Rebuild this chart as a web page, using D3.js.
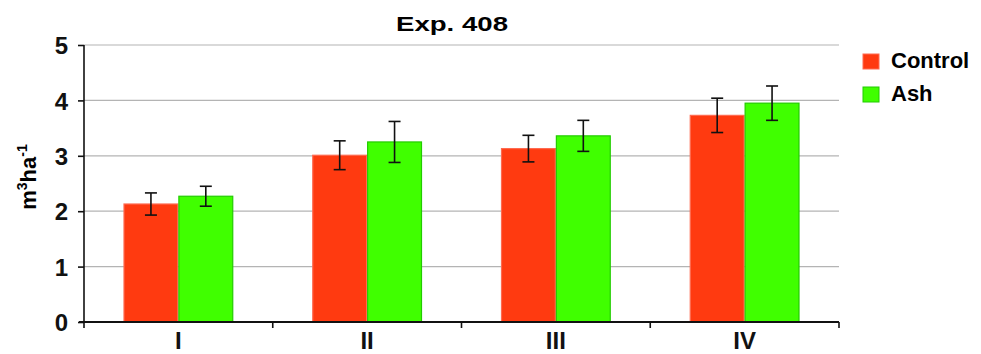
<!DOCTYPE html>
<html>
<head>
<meta charset="utf-8">
<script src="https://cdn.jsdelivr.net/npm/d3@7"></script>
<style>
  body { margin: 0; background: #fff; }
  svg { display: block; font-family: "Liberation Sans", Arial, sans-serif; }
</style>
</head>
<body>
<svg id="chart" width="981" height="354"></svg>
<script>
// Stand volume by treatment, experiment 408
const categories = ["I", "II", "III", "IV"];
const seriesNames = ["Control", "Ash"];
const controlValues = [2.13, 3.01, 3.13, 3.73];
const controlErrors = [0.20, 0.26, 0.24, 0.31];
const ashValues = [2.27, 3.25, 3.36, 3.95];
const ashErrors = [0.18, 0.37, 0.28, 0.31];
const yTicks = [0, 1, 2, 3, 4, 5];

const colors = { Control: "#ff3a10", Ash: "#40ff00" };
const strokes = { Control: "#ff6a50", Ash: "#22cc00" };

const svg = d3.select("#chart");
const margin = { left: 84, right: 142, top: 45, bottom: 32 };
const width = 981 - margin.left - margin.right;
const height = 354 - margin.top - margin.bottom;

const g = svg.append("g").attr("transform", `translate(${margin.left},${margin.top})`);

const x0 = d3.scaleBand().domain(categories).range([0, width]).padding(0);
const x1 = d3.scaleBand().domain(seriesNames).range([0, x0.bandwidth()]).paddingOuter(0.72).paddingInner(0);
const y = d3.scaleLinear().domain([0, 5]).range([height, 0]);

// Horizontal gridlines
g.selectAll(".grid").data(yTicks.filter(d => d > 0)).join("line")
  .attr("x1", 0).attr("x2", width)
  .attr("y1", d => y(d)).attr("y2", d => y(d))
  .attr("stroke", "#b4b4b4").attr("stroke-width", 1.2);

const rows = categories.map((c, i) => ({
  cat: c,
  items: [
    { name: "Control", value: controlValues[i], err: controlErrors[i] },
    { name: "Ash", value: ashValues[i], err: ashErrors[i] }
  ]
}));

const groups = g.selectAll(".grp").data(rows).join("g")
  .attr("transform", d => `translate(${x0(d.cat)},0)`);

groups.selectAll("rect").data(d => d.items).join("rect")
  .attr("x", d => x1(d.name) + 0.5)
  .attr("y", d => y(d.value))
  .attr("width", x1.bandwidth() - 1)
  .attr("height", d => y(0) - y(d.value))
  .attr("fill", d => colors[d.name])
  .attr("stroke", d => strokes[d.name])
  .attr("stroke-width", 1.2);

// Error bars
const eb = groups.selectAll(".eb").data(d => d.items).join("g")
  .attr("transform", d => `translate(${x1(d.name) + x1.bandwidth() / 2},0)`)
  .attr("stroke", "#111").attr("stroke-width", 1.6);
eb.append("line").attr("x1", 0).attr("x2", 0)
  .attr("y1", d => y(d.value + d.err)).attr("y2", d => y(d.value - d.err));
eb.append("line").attr("x1", -6).attr("x2", 6)
  .attr("y1", d => y(d.value + d.err)).attr("y2", d => y(d.value + d.err));
eb.append("line").attr("x1", -6).attr("x2", 6)
  .attr("y1", d => y(d.value - d.err)).attr("y2", d => y(d.value - d.err));

// Y axis
const yAxis = g.append("g")
  .call(d3.axisLeft(y).tickValues(yTicks).tickSize(6).tickPadding(10).tickFormat(d3.format("d")));
yAxis.select(".domain").attr("stroke", "#111").attr("stroke-width", 1.6).attr("d", `M0,${height}V0`);
yAxis.selectAll(".tick line").attr("stroke", "#111").attr("stroke-width", 1.6);
yAxis.selectAll(".tick text").attr("font-size", 24).attr("font-weight", "bold").attr("fill", "#111")
  .attr("dy", "0.36em");

// X axis: ticks at category boundaries
const xAxis = g.append("g").attr("transform", `translate(0,${height})`);
xAxis.append("line").attr("x1", -5).attr("x2", width).attr("y1", 0).attr("y2", 0)
  .attr("stroke", "#111").attr("stroke-width", 1.8);
const bounds = categories.map(c => x0(c)).concat([width]);
xAxis.selectAll(".xt").data(bounds).join("line")
  .attr("x1", d => d).attr("x2", d => d).attr("y1", 0).attr("y2", 6)
  .attr("stroke", "#111").attr("stroke-width", 1.6);
xAxis.selectAll(".xl").data(categories).join("text")
  .attr("x", d => x0(d) + x0.bandwidth() / 2).attr("y", 27)
  .attr("text-anchor", "middle").attr("font-size", 24).attr("font-weight", "bold").attr("fill", "#111")
  .text(d => d);

// Title
svg.append("text").attr("x", 452).attr("y", 31).attr("text-anchor", "middle")
  .attr("font-size", 21).attr("font-weight", "bold").attr("fill", "#000")
  .attr("textLength", 112).attr("lengthAdjust", "spacingAndGlyphs").text("Exp. 408");

// Y axis title m3ha-1
const yt = svg.append("text").attr("transform", "translate(36,177) rotate(-90)")
  .attr("text-anchor", "middle").attr("font-size", 22).attr("font-weight", "bold").attr("fill", "#000");
yt.append("tspan").text("m");
yt.append("tspan").attr("dy", -9).attr("font-size", 14).text("3");
yt.append("tspan").attr("dy", 9).text("ha");
yt.append("tspan").attr("dy", -9).attr("font-size", 14).text("-1");

// Legend
const legend = svg.append("g").attr("transform", "translate(862,52)");
seriesNames.forEach((s, i) => {
  const lg = legend.append("g").attr("transform", `translate(0,${i * 33})`);
  lg.append("rect").attr("x", 1).attr("y", 2).attr("width", 16).attr("height", 15)
    .attr("fill", colors[s]).attr("stroke", strokes[s]).attr("stroke-width", 1);
  lg.append("text").attr("x", 29).attr("y", 16).attr("font-size", 22).attr("fill", "#000")
    .attr("font-weight", "bold").text(s);
});
</script>
</body>
</html>
